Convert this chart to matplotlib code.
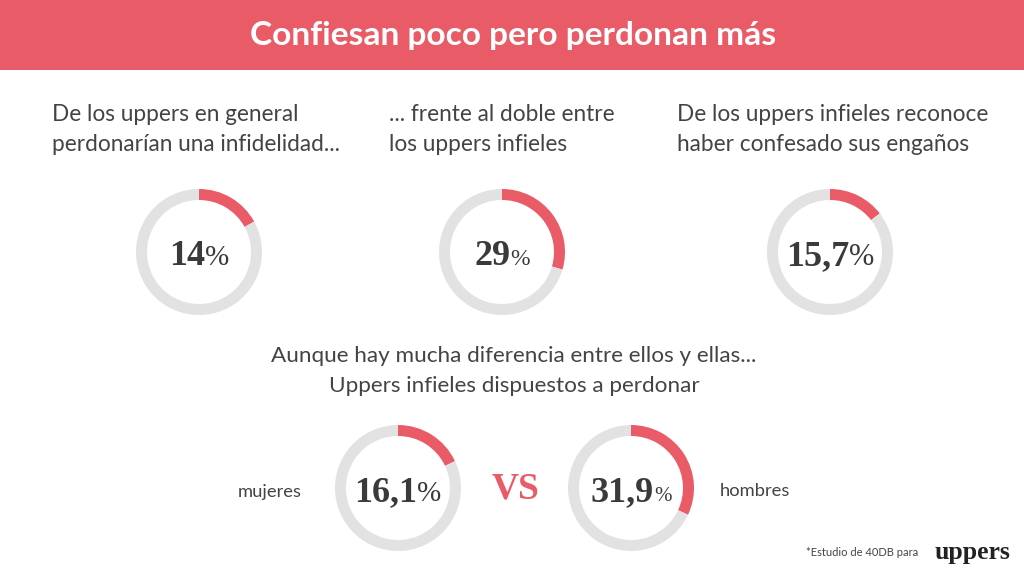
import matplotlib
matplotlib.use('Agg')
import matplotlib.pyplot as plt
from matplotlib.patches import Rectangle

# porcentajes (el arco dibujado no coincide del todo con la cifra)
etiquetas = ['14', '29', '15,7', '16,1', '31,9']
arcos = [17, 29.5, 14.5, 18, 32]

titulo = 'Confiesan poco pero perdonan más'
textos_arriba = ['De los uppers en general\nperdonarían una infidelidad...',
                 '... frente al doble entre\nlos uppers infieles',
                 'De los uppers infieles reconoce\nhaber confesado sus engaños']
texto_medio = 'Aunque hay mucha diferencia entre ellos y ellas...\nUppers infieles dispuestos a perdonar'

ROJO = '#E95B67'
GRIS = '#E2E2E2'
OSCURO = '#3A3A3A'
W, H = 1024, 576

fig = plt.figure(figsize=(W / 100, H / 100), dpi=100, facecolor='white')
bg = fig.add_axes([0, 0, 1, 1])
bg.set_xlim(0, W)
bg.set_ylim(H, 0)
bg.axis('off')

bg.add_patch(Rectangle((0, 0), W, 70, color=ROJO, lw=0))
bg.text(513, 35, titulo, color='white', fontsize=24.1, fontweight='bold',
        family='Lato', ha='center', va='center')

# textos de arriba
for x, t in zip([52, 389, 677], textos_arriba):
    bg.text(x, 129.5, t, color='#444444', fontsize=16.3, family='Lato',
            ha='left', va='center', linespacing=1.55)
bg.text(514, 371, texto_medio, color='#444444', fontsize=16.2, family='Lato',
        ha='center', va='center', linespacing=1.6, multialignment='center')


def donut(cx, cy, valor, r=63, grosor=11):
    ax = fig.add_axes([(cx - r) / W, 1 - (cy + r) / H, 2 * r / W, 2 * r / H])
    ax.pie([valor, 100 - valor], colors=[ROJO, GRIS], startangle=90, counterclock=False,
           radius=1, wedgeprops={'width': grosor / r, 'linewidth': 0})
    ax.set_xlim(-1, 1)
    ax.set_ylim(-1, 1)
    ax.axis('off')


centros = [(199, 252), (502, 252), (830, 252), (398, 488), (631, 488)]
for (cx, cy), v in zip(centros, arcos):
    donut(cx, cy, v)


def etiqueta(cx, cy, num, tam_signo):
    # cifra y signo por separado, centrados juntos
    n = bg.text(0, cy + 13, num, color=OSCURO, fontsize=26, family='Liberation Serif',
                fontweight='bold', ha='left', va='baseline')
    s = bg.text(0, cy + 13, '%', color=OSCURO, fontsize=tam_signo, family='Liberation Serif',
                ha='left', va='baseline')
    fig.canvas.draw()
    an = n.get_window_extent().width
    ans = s.get_window_extent().width
    x0 = cx - (an + ans) / 2
    n.set_x(x0)
    s.set_x(x0 + an)


for (cx, cy), txt, tam in zip(centros, etiquetas, [21, 17, 22, 21, 15]):
    etiqueta(cx, cy, txt, tam)

bg.text(516, 489, 'VS', color=ROJO, fontsize=27, family='Liberation Serif', fontweight='bold',
        ha='center', va='center')
bg.text(270, 492, 'mujeres', color='#444444', fontsize=13.2, family='Lato',
        ha='center', va='center')
bg.text(755, 491, 'hombres', color='#444444', fontsize=13.2, family='Lato',
        ha='center', va='center')

bg.text(918, 553, '*Estudio de 40DB para', color='#444444', fontsize=8, family='Lato',
        ha='right', va='center')
bg.text(1010, 552, 'uppers', color='#222222', fontsize=18.5, family='Liberation Serif',
        fontweight='bold', ha='right', va='center')

fig.savefig('out.png', dpi=100)
